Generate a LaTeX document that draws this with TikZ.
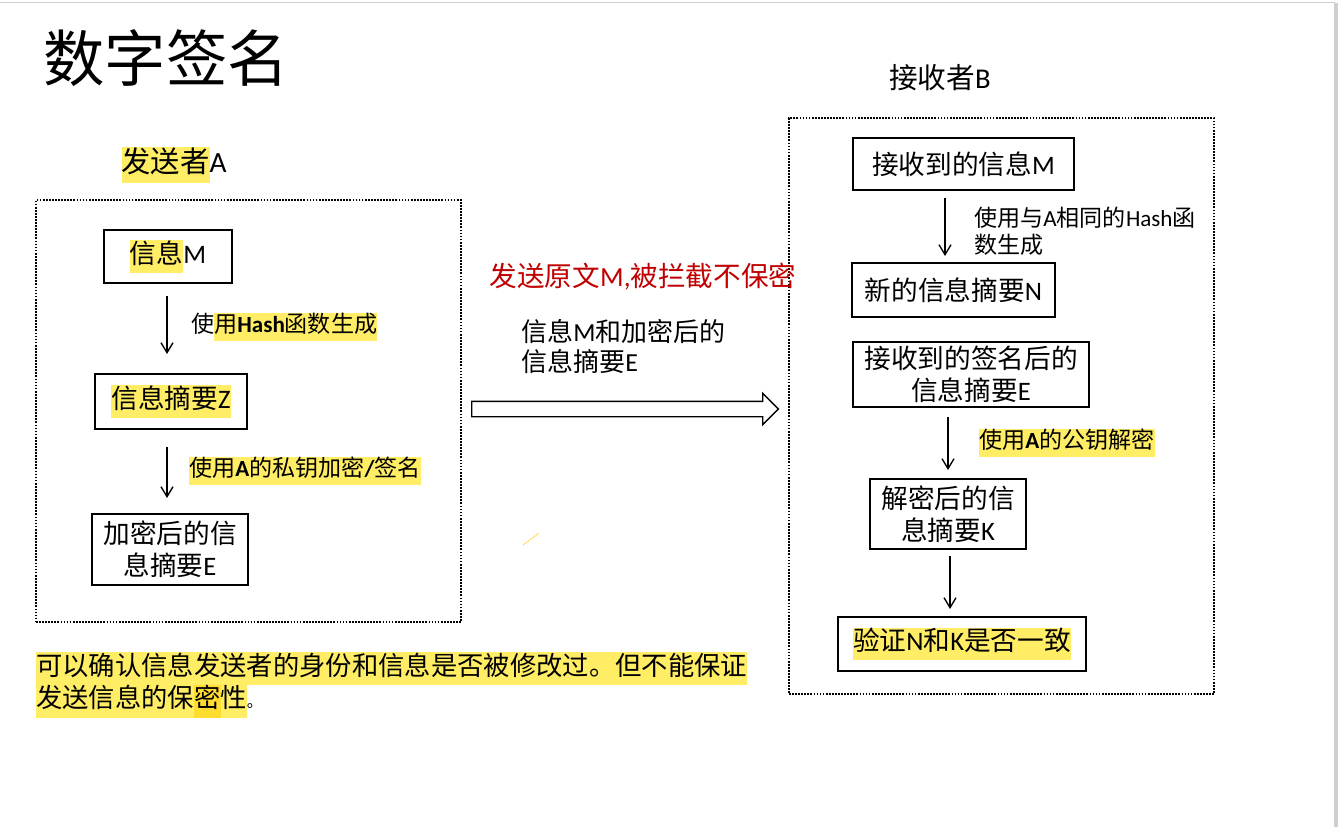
\documentclass[tikz,border=0pt]{standalone}
\usepackage{fontspec}
\setmainfont{Noto Sans CJK SC}
\newfontfamily\latinfont{Carlito}
\usetikzlibrary{arrows.meta,shapes.arrows,calc}
\definecolor{hly}{HTML}{FFED66}
\definecolor{hldeep}{HTML}{FFDC30}
\definecolor{alertred}{HTML}{C00000}
\definecolor{edgegray}{HTML}{CFCFCF}
% Latin letters in Carlito, regular and bold
\newcommand{\la}[1]{{\latinfont #1}}
\newcommand{\lab}[1]{{\latinfont\bfseries #1}}
% yellow text highlight
\newcommand{\hl}[1]{{\setlength{\fboxsep}{0pt}\colorbox{hly}{\strut #1}}}
\newcommand{\hldeep}[1]{{\setlength{\fboxsep}{0pt}\colorbox{hldeep}{\strut #1}}}
\begin{document}
\begin{tikzpicture}[x=0.75pt,y=-0.75pt,
  box/.style={draw, line width=1.1pt, inner sep=0pt, outer sep=0pt, align=center,
    font=\fontsize{20}{24}\selectfont},
  frame/.style={draw, line width=1.7pt, dash pattern=on 1.3pt off 1.0pt,
    inner sep=0pt, outer sep=0pt},
  flow/.style={line width=1pt, -{Straight Barb[length=7.5pt,width=9pt,line width=1pt]}},
  note/.style={inner sep=0pt, align=left, font=\fontsize{17.3}{20}\selectfont},
  bigtext/.style={inner sep=0pt, font=\fontsize{20}{24}\selectfont},
  hollow/.style={single arrow, draw, line width=1pt, minimum height=230pt,
    inner sep=5.25pt, single arrow head extend=6pt, single arrow head indent=0pt}]
\fill[white] (0,0) rectangle (1338,827);
\useasboundingbox (0,0) rectangle (1338,827);
% page edges
\draw[edgegray, line width=0.9pt] (0,2.5) -- (1335,2.5);
\fill[edgegray] (1334,3) rectangle (1338,827);

% title and headings
\node[inner sep=0pt, font=\fontsize{46}{50}\selectfont] (title) at (166,58) {数字签名};
\node[inner sep=0pt, font=\fontsize{22}{26}\selectfont] (sender) at (174,165) {\hl{发送者}\la{A}};
\node[inner sep=0pt, font=\fontsize{21.5}{26}\selectfont] (receiver) at (940,78) {接收者\la{B}};

% sender side
\node[frame, minimum width=318.75pt, minimum height=316.5pt] (sframe) at (248.5,411) {};
\node[box, minimum width=96pt, minimum height=39.75pt] (mA) at (168,256.5) {\hl{信息}\la{M}};
\node[box, minimum width=114pt, minimum height=41.25pt] (zA) at (171,401.5) {\hl{信息摘要\la{Z}}};
\node[box, minimum width=117pt, minimum height=53.25pt] (eA) at (170,549.5) {加密后的信\\息摘要\la{E}};
\coordinate (axA) at (167,0);
\draw[flow, shorten <=9.75pt, shorten >=15pt] (mA.south -| axA) -- (zA.north -| axA);
\draw[flow, shorten <=13.5pt, shorten >=12pt] (zA.south -| axA) -- (eA.north -| axA);
\node[note, anchor=west] (hashA) at (191,327) {使\hl{用\lab{Hash}函数生成}};
\node[note, anchor=west] (signA) at (189,471) {\hl{使用\lab{A}的私钥加密\lab{/}签名}};

% transfer between the two sides
\node[frame, minimum width=318.75pt, minimum height=432pt] (rframe) at (1001.5,406) {};
\node[hollow, anchor=tail] (send) at ($(sframe.east)+(10,-2)$) {};
\node[bigtext, text=alertred, font=\fontsize{20.7}{24}\selectfont] (leak) at (643,277) {发送原文\la{M,}被拦截不保密};
\node[bigtext, align=left, anchor=west, font=\fontsize{19.5}{22.5}\selectfont] (payload) at (521,347) {信息\la{M}和加密后的\\信息摘要\la{E}};
\coordinate (s1) at (523,545);
\coordinate (s2) at (539,533);
\draw[hly!80!orange, line width=0.8pt, dash pattern=on 1pt off 0.5pt] (s1) -- (s2);

% receiver side
\node[box, minimum width=165.75pt, minimum height=39pt] (mB) at (963.5,164) {接收到的信息\la{M}};
\node[box, minimum width=152.25pt, minimum height=40.5pt] (nB) at (953.5,290) {新的信息摘要\la{N}};
\node[box, minimum width=177pt, minimum height=48.75pt] (eB) at (971,374.5) {接收到的签名后的\\信息摘要\la{E}};
\node[box, minimum width=117pt, minimum height=52.5pt] (kB) at (948,514) {解密后的信\\息摘要\la{K}};
\node[box, minimum width=186pt, minimum height=40.5pt] (vB) at (962,644) {\hl{验证\la{N}和\la{K}是否一致}};
\coordinate (ax1) at (945,0);
\coordinate (ax2) at (948,0);
\coordinate (ax3) at (950,0);
\draw[flow, shorten <=6pt, shorten >=5.25pt] (mB.south -| ax1) -- (nB.north -| ax1);
\draw[flow, shorten <=7.5pt, shorten >=6.75pt] (eB.south -| ax2) -- (kB.north -| ax2);
\draw[flow, shorten <=5.25pt, shorten >=6pt] (kB.south -| ax3) -- (vB.north -| ax3);
\node[note, anchor=west] (hashB) at (974,231) {使用与\la{A}相同的\la{Hash}函\\数生成};
\node[note, anchor=west] (decB) at (979,443) {\hl{使用\lab{A}的公钥解密}};

% conclusion
\node[bigtext, align=left, anchor=north west, font=\fontsize{19.75}{24.5}\selectfont] (summary) at (36,652)
  {\hl{可以确认信息发送者的身份和信息是否被修改过。但不能保证}\\\hl{发送信息的保}\hldeep{密}\hl{性}{\fontsize{12}{12}\selectfont 。}};
\end{tikzpicture}
\end{document}
